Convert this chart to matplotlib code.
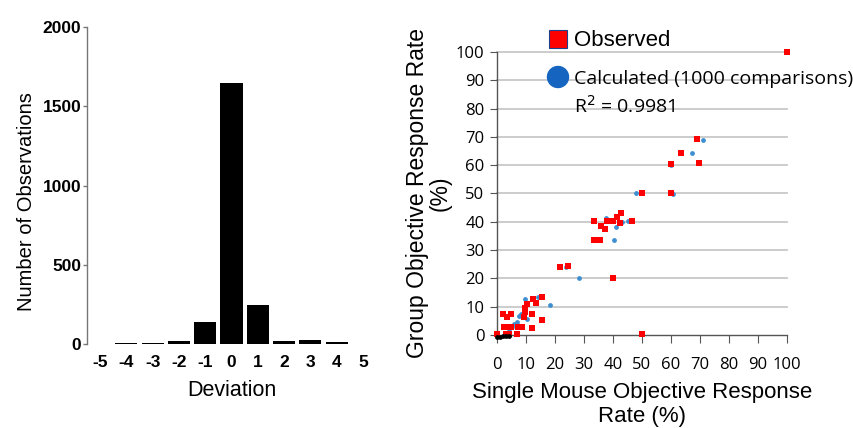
import matplotlib
matplotlib.use("Agg")
import matplotlib.pyplot as plt
from matplotlib.patches import Ellipse, Rectangle

# ---- Left histogram data ----
deviation = [-5, -4, -3, -2, -1, 0, 1, 2, 3, 4, 5]
counts = [0, 4, 4, 20, 137, 1648, 244, 20, 27, 11, 2]

# ---- Right scatter data ----
obs_x = [100, 69.0, 63.6, 60.1, 69.7, 50.1, 60.1, 33.3, 33.3, 35.6, 36.0, 37.4, 37.8, 40.1,
         41.3, 42.9, 42.4, 46.6, 21.8, 24.4, 40.0, 50.1,
         2.2, 3.3, 4.7, 2.3, 3.9, 4.8, 3.0, 4.3, 0.0, 7.0, 7.3, 8.6, 9.4, 9.8, 9.5, 10.5,
         11.9, 11.9, 12.5, 13.4, 15.4, 15.6, 15.4]
obs_y = [100, 69.2, 64.3, 60.5, 60.7, 50.1, 50.1, 40.3, 33.6, 33.6, 38.6, 37.6, 40.4, 40.4,
         41.6, 43.0, 39.7, 40.3, 24.2, 24.5, 20.3, 0.2,
         7.3, 6.2, 7.3, 2.8, 2.7, 2.9, 0.4, 0.4, 0.4, 0.4, 2.7, 2.8, 6.2, 8.2, 9.4, 11.0,
         7.4, 2.6, 12.8, 11.2, 13.3, 13.5, 5.3]
calc_x = [71.1, 67.2, 60.1, 48.1, 60.6, 37.5, 40.3, 41.1, 45.2, 43.0, 23.7, 28.2,
          9.8, 7.7, 6.8, 10.2, 14.3, 18.3, 5.2, 8.2, 6.0, 4.0]
calc_y = [69.0, 64.2, 60.2, 50.1, 49.9, 41.5, 33.6, 38.3, 40.3, 39.8, 24.2, 20.3,
          12.7, 6.7, 4.7, 5.5, 13.3, 10.7, 2.9, 7.3, 4.0, 2.0]
zero_x = [0.0, 1.0, 2.0, 3.0, 4.0]
zero_y = [-0.6, -0.6, -0.4, -0.5, -0.3]

plt.rcParams['font.family'] = ['Liberation Sans', 'DejaVu Sans']

fig = plt.figure(figsize=(8.54, 4.28), dpi=100)

# ---------- Left chart ----------
ax1 = fig.add_axes([87/854, 84/428, 289/854, 317/428])
ax1.bar(deviation, counts, width=0.84, color='black')
ax1.set_xlim(-5.5, 5.5)
ax1.set_ylim(0, 2000)
ax1.set_yticks([0, 500, 1000, 1500, 2000])
ax1.set_xticks(deviation)
ax1.set_xticklabels([str(d) for d in deviation])
for s in ['top', 'right', 'bottom']:
    ax1.spines[s].set_visible(False)
ax1.spines['left'].set_color('#777777')
ax1.spines['left'].set_linewidth(1.0)
ax1.tick_params(axis='y', length=3, color='#777777', width=1, pad=1, labelsize=12.5)
ax1.tick_params(axis='x', length=0, pad=8, labelsize=12.5)
for lab in ax1.get_xticklabels() + ax1.get_yticklabels():
    lab.set_fontweight('bold')
ax1.set_ylabel('Number of Observations', fontsize=14.5)
ax1.yaxis.set_label_coords(-0.175, 0.45)
ax1.set_xlabel('Deviation', fontsize=15.5, labelpad=7)

# ---------- Right chart ----------
ax2 = fig.add_axes([497/854, 93/428, 290/854, 283/428])
ax2.set_xlim(0, 100)
ax2.set_ylim(0, 100)
ticks = list(range(0, 101, 10))
ax2.set_xticks(ticks)
ax2.set_yticks(ticks)
for t in ticks[1:]:
    ax2.plot([0, 100], [t, t], color='#c8c8c8', lw=1.3, zorder=0, clip_on=False)
for s in ['top', 'right']:
    ax2.spines[s].set_visible(False)
for s in ['left', 'bottom']:
    ax2.spines[s].set_color('#555555')
    ax2.spines[s].set_linewidth(1.0)
ax2.tick_params(axis='y', length=5, color='#555555', pad=4, labelsize=12)
ax2.tick_params(axis='x', length=6, color='#555555', pad=10, labelsize=12)
for lab in ax2.get_xticklabels() + ax2.get_yticklabels():
    lab.set_fontfamily(['Open Sans', 'DejaVu Sans'])

ax2.scatter(calc_x, calc_y, s=12, marker='o', color='#3d8fd1', zorder=3, clip_on=False, linewidths=0)
ax2.scatter(obs_x, obs_y, s=15, marker='s', color='#ff0000', zorder=4, clip_on=False, linewidths=0)
ax2.scatter(zero_x, zero_y, s=12, marker='o', color='black', zorder=5, clip_on=False, linewidths=0)

ax2.set_xlabel('Single Mouse Objective Response\nRate (%)', fontsize=16, labelpad=6, linespacing=1.2)
ax2.set_ylabel('Group Objective Response Rate\n(%)', fontsize=16.5, labelpad=3, linespacing=1.0)

# Legend-like annotations (figure pixel coordinates)
fig.patches.append(Rectangle((549/854, (428-48)/428), 18/854, 18/428,
                             transform=fig.transFigure, facecolor='#ff0000',
                             edgecolor='#1f3f8f', lw=0.8, figure=fig))
fig.patches.append(Ellipse((558/854, (428-77)/428), 21/854, 21/428,
                           transform=fig.transFigure, facecolor='#1565c0',
                           edgecolor='#1565c0', figure=fig))
fig.text(574/854, (428-40)/428, 'Observed', fontsize=16, va='center', ha='left')
fig.text(574/854, (428-79)/428, 'Calculated (1000 comparisons)', fontsize=14,
         va='center', ha='left', family=['Open Sans', 'DejaVu Sans'])
fig.text(574/854, (428-106)/428, 'R$^2$ = 0.9981', fontsize=14,
         va='center', ha='left', family=['Open Sans', 'DejaVu Sans'])

fig.savefig('out.png', dpi=100)
